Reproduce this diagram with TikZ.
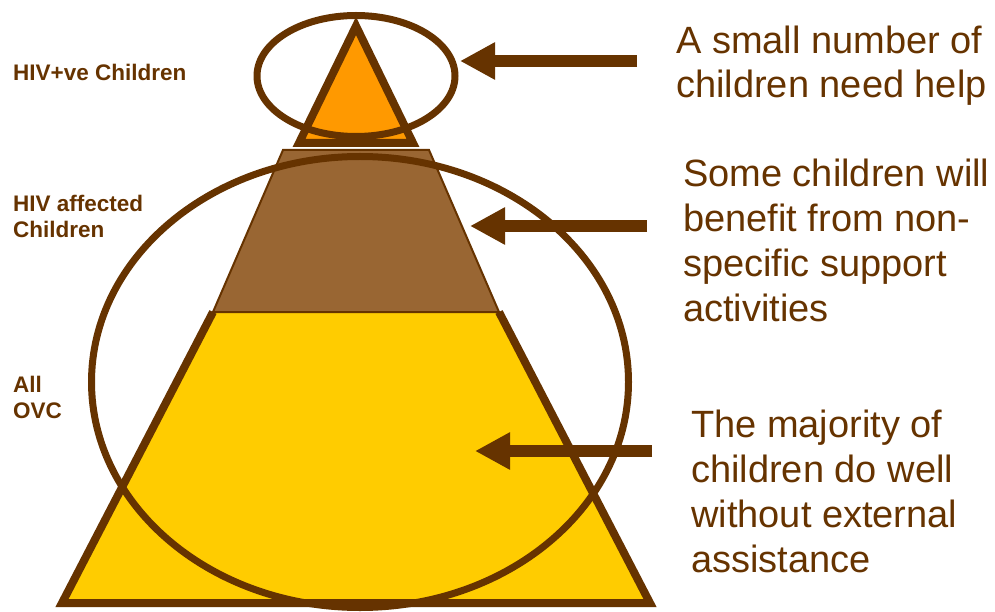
\documentclass[tikz,border=0pt]{standalone}
\usepackage{fontspec}
\setmainfont{Liberation Sans}
\usetikzlibrary{arrows.meta}
\definecolor{rim}{HTML}{663300}
\definecolor{tipfill}{HTML}{FF9900}
\definecolor{midfill}{HTML}{996633}
\definecolor{basefill}{HTML}{FFCC00}
\tikzset{
  band/.style={draw=rim, line width=8pt, line join=miter},
  ring/.style={draw=rim, line width=7pt},
  pointer/.style={draw=rim, line width=12pt, -{Triangle[length=35pt,width=35pt]}},
  % multi-line nodes: the base anchor sits on the last line
  note/.style={text=rim, font=\fontsize{38}{44.7}\selectfont, align=left, anchor=base west, inner sep=0pt},
  tag/.style={text=rim, font=\bfseries\fontsize{22.5}{26}\selectfont, align=left, anchor=base west, inner sep=0pt}
}
\begin{document}
\begin{tikzpicture}[x=1pt, y=-1pt]
\useasboundingbox (0,0) rectangle (995,612);

% bottom tier of the pyramid
\fill[basefill] (213,312) -- (62,603) -- (650,603) -- (499,312) -- cycle;
\draw[band] (213,312) -- (62,603) -- (650,603) -- (499,312);

% middle tier
\filldraw[fill=midfill, draw=rim, line width=2pt] (283,150) -- (213,312) -- (499,312) -- (429,150) -- cycle;

% top tier
\filldraw[band, fill=tipfill] (356,26) -- (299,143) -- (413,143) -- cycle;

% rings round the groups
\draw[ring] (356,76) ellipse [x radius=99pt, y radius=60.5pt];
\draw[ring] (360,382) ellipse [x radius=268.5pt, y radius=225.5pt];

% arrows from the notes to the tiers
\coordinate (s1) at (637,61);  \coordinate (e1) at (460,61);
\coordinate (s2) at (647,226); \coordinate (e2) at (470,226);
\coordinate (s3) at (652,451); \coordinate (e3) at (475,451);
\draw[pointer] (s1) -- (e1);
\draw[pointer] (s2) -- (e2);
\draw[pointer] (s3) -- (e3);

% notes on the right
\node[note] (n1) at (676,98) {A small number of\\children need help};
\node[note] (n2) at (683,321) {Some children will\\benefit from non-\\specific support\\activities};
\node[note] (n3) at (691,572) {The majority of\\children do well\\without external\\assistance};

% group labels on the left
\node[tag] (t1) at (13,81) {HIV+ve Children};
\node[tag] (t2) at (13,238) {HIV affected\\Children};
\node[tag] (t3) at (13,418) {All\\OVC};
\end{tikzpicture}
\end{document}
